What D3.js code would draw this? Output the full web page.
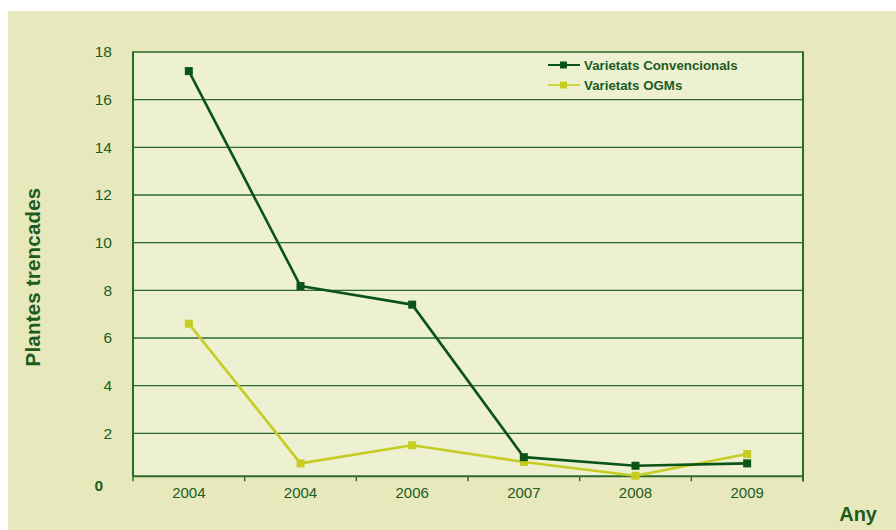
<!DOCTYPE html>
<html><head><meta charset="utf-8">
<script src="https://cdn.jsdelivr.net/npm/d3@7"></script>
<style>
html,body{margin:0;padding:0;background:#fff;}
svg{display:block;font-family:"Liberation Sans",Arial,Helvetica,sans-serif;}
</style></head>
<body>
<svg id="chart" width="896" height="530"></svg>
<script>
const years = ["2004", "2004", "2006", "2007", "2008", "2009"];
const convencionals = [17.2, 8.18, 7.4, 1.0, 0.64, 0.74];
const ogms = [6.6, 0.74, 1.5, 0.8, 0.22, 1.13];
const yTicks = [2, 4, 6, 8, 10, 12, 14, 16, 18];
const seriesNames = ["Varietats Convencionals", "Varietats OGMs"];
const seriesColors = ["#0b5418", "#c6cd22"];

const svg = d3.select("#chart");
const W = 896, H = 530;
const textColor = "#1d5c1f";
const gridColor = "#2b6a2b";

// panel background
svg.append("rect").attr("x", 8).attr("y", 11).attr("width", W - 8).attr("height", H - 11).attr("fill", "#e7e9bd");

const plot = {left: 133, right: 803, top: 52, bottom: 481};
const x = d3.scaleBand().domain(d3.range(years.length)).range([plot.left, plot.right]).padding(0);
const y = d3.scaleLinear().domain([0, 18]).range([plot.bottom, plot.top]);
const axisY = y(0.2);

// plot area fill
svg.append("rect").attr("x", plot.left).attr("y", y(18)).attr("width", plot.right - plot.left)
  .attr("height", axisY - y(18)).attr("fill", "#edf0d1");

// grid lines
svg.append("g").selectAll("line").data(yTicks).join("line")
  .attr("x1", plot.left).attr("x2", plot.right)
  .attr("y1", d => y(d)).attr("y2", d => y(d))
  .attr("stroke", gridColor).attr("stroke-width", 1.4);

// left & right borders
svg.append("line").attr("x1", plot.left).attr("x2", plot.left).attr("y1", y(18) - 0.7).attr("y2", axisY)
  .attr("stroke", gridColor).attr("stroke-width", 2);
svg.append("line").attr("x1", plot.right).attr("x2", plot.right).attr("y1", y(18) - 0.7).attr("y2", axisY + 5)
  .attr("stroke", gridColor).attr("stroke-width", 2);

// y tick labels
const yAxis = d3.axisLeft(y).tickValues(yTicks).tickSize(0).tickPadding(0).tickFormat(d3.format("d"));
const gy = svg.append("g").attr("transform", `translate(${plot.left - 21},0)`).call(yAxis);
gy.select(".domain").remove();
gy.selectAll("text").attr("fill", textColor).attr("font-size", 15.5).attr("font-family", "Liberation Sans, Arial, sans-serif");

// bold 0 label
svg.append("text").attr("x", plot.left - 30).attr("y", y(0) + 5).attr("dy", "0.32em").attr("text-anchor", "end")
  .attr("fill", textColor).attr("font-size", 15.5).attr("font-weight", "bold").text("0");

// x axis
const xAxis = d3.axisBottom(x).tickSize(0).tickPadding(0).tickFormat(i => years[i]);
const gx = svg.append("g").attr("transform", `translate(0,${axisY})`).call(xAxis);
gx.select(".domain").remove();
gx.selectAll("text").attr("fill", textColor).attr("font-size", 15).attr("dy", "1.45em")
  .attr("font-family", "Liberation Sans, Arial, sans-serif");
svg.append("line").attr("x1", plot.left).attr("x2", plot.right).attr("y1", axisY).attr("y2", axisY)
  .attr("stroke", gridColor).attr("stroke-width", 2);
const tickPos = d3.range(years.length + 1).map(i => plot.left + i * x.bandwidth());
svg.append("g").selectAll("line").data(tickPos).join("line")
  .attr("x1", d => d).attr("x2", d => d).attr("y1", axisY).attr("y2", axisY + 5)
  .attr("stroke", gridColor).attr("stroke-width", 1.5);

// lines
const cx = i => x(i) + x.bandwidth() / 2;
const line = d3.line().x((d, i) => cx(i)).y(d => y(d));
const series = [ogms, convencionals];
const sColors = [seriesColors[1], seriesColors[0]];
series.forEach((vals, k) => {
  svg.append("path").datum(vals).attr("d", line).attr("fill", "none")
    .attr("stroke", sColors[k]).attr("stroke-width", 2.6).attr("stroke-linejoin", "round");
});
series.forEach((vals, k) => {
  svg.append("g").selectAll("rect").data(vals).join("rect")
    .attr("x", (d, i) => cx(i) - 4).attr("y", d => y(d) - 4)
    .attr("width", 8).attr("height", 8).attr("fill", sColors[k]);
});

// legend
const lg = svg.append("g");
seriesNames.forEach((name, k) => {
  const ly = 65 + k * 20;
  lg.append("line").attr("x1", 548).attr("x2", 580).attr("y1", ly).attr("y2", ly)
    .attr("stroke", seriesColors[k]).attr("stroke-width", k === 0 ? 2 : 1.6);
  lg.append("rect").attr("x", 560).attr("y", ly - 3.5).attr("width", 7).attr("height", 7).attr("fill", seriesColors[k]);
  lg.append("text").attr("x", 584).attr("y", ly).attr("dy", "0.35em").attr("fill", textColor)
    .attr("font-size", 13.3).attr("font-weight", "bold").text(name);
});

// axis titles
svg.append("text").attr("transform", `translate(40,277) rotate(-90)`).attr("text-anchor", "middle")
  .attr("fill", textColor).attr("font-size", 20.5).attr("font-weight", "bold").attr("letter-spacing", 0.2)
  .text("Plantes trencades");
svg.append("text").attr("x", 877).attr("y", 521).attr("text-anchor", "end")
  .attr("fill", textColor).attr("font-size", 20).attr("font-weight", "bold").text("Any");
</script>
</body></html>
